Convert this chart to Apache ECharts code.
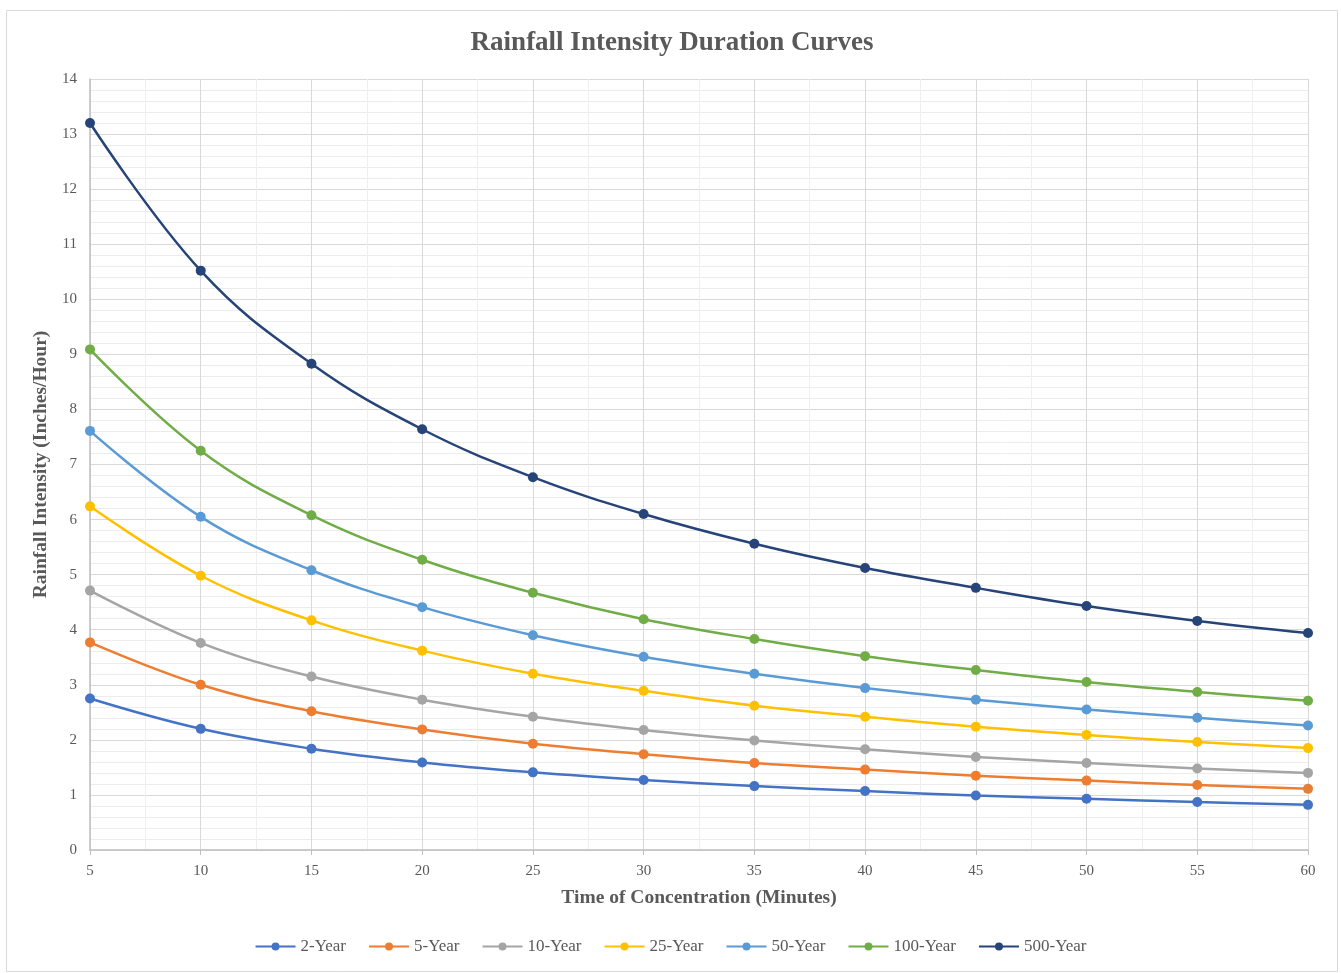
<!DOCTYPE html>
<html>
<head>
<meta charset="utf-8">
<script src="https://cdn.jsdelivr.net/npm/echarts@6/dist/echarts.min.js"></script>
<style>html,body{margin:0;padding:0;background:#fff;}#c{width:1341px;height:973px;}</style>
</head>
<body>
<div id="c"></div>
<script>
const durations = [5, 10, 15, 20, 25, 30, 35, 40, 45, 50, 55, 60];
const seriesNames = ['2-Year', '5-Year', '10-Year', '25-Year', '50-Year', '100-Year', '500-Year'];
const year2   = [2.75, 2.20, 1.84, 1.59, 1.41, 1.27, 1.16, 1.07, 0.99, 0.93, 0.87, 0.82];
const year5   = [3.77, 3.00, 2.52, 2.19, 1.93, 1.74, 1.58, 1.46, 1.35, 1.26, 1.18, 1.11];
const year10  = [4.71, 3.76, 3.15, 2.73, 2.42, 2.18, 1.99, 1.83, 1.69, 1.58, 1.48, 1.40];
const year25  = [6.24, 4.98, 4.17, 3.62, 3.20, 2.89, 2.62, 2.42, 2.24, 2.09, 1.96, 1.85];
const year50  = [7.61, 6.05, 5.08, 4.41, 3.90, 3.51, 3.20, 2.94, 2.73, 2.55, 2.40, 2.26];
const year100 = [9.09, 7.25, 6.08, 5.27, 4.67, 4.19, 3.83, 3.52, 3.27, 3.05, 2.87, 2.71];
const year500 = [13.20, 10.52, 8.83, 7.64, 6.77, 6.10, 5.56, 5.12, 4.76, 4.43, 4.16, 3.94];
const allValues = [year2, year5, year10, year25, year50, year100, year500];
const colors = ['#4472C4', '#ED7D31', '#A5A5A5', '#FFC000', '#5B9BD5', '#70AD47', '#264478'];

const font = 'Liberation Serif';
const chart = echarts.init(document.getElementById('c'));
chart.setOption({
  animation: false,
  color: colors,
  title: {
    text: 'Rainfall Intensity Duration Curves',
    left: 667, top: 25, textAlign: 'center',
    textStyle: { fontFamily: font, fontSize: 27, fontWeight: 'bold', color: '#595959' }
  },
  graphic: [{
    type: 'rect', left: 4, top: 8, z: -1,
    shape: { width: 1331, height: 961 },
    style: { fill: 'none', stroke: '#d9d9d9', lineWidth: 1 }
  }],
  legend: {
    bottom: 13, left: 'center',
    itemWidth: 40, itemHeight: 10, itemGap: 22,
    textStyle: { fontFamily: font, fontSize: 17, color: '#595959' },
    data: seriesNames
  },
  grid: { left: 90, right: 33, top: 79, bottom: 123 },
  xAxis: {
    type: 'value', min: 5, max: 60, interval: 5,
    name: 'Time of Concentration (Minutes)', nameLocation: 'middle', nameGap: 38,
    nameTextStyle: { fontFamily: font, fontSize: 19.5, fontWeight: 'bold', color: '#595959' },
    axisLine: { show: true, lineStyle: { color: '#bfbfbf', width: 1.5 } },
    axisTick: { show: true, length: 5, lineStyle: { color: '#bfbfbf' } },
    axisLabel: { fontFamily: font, fontSize: 15, color: '#595959', margin: 14 },
    splitLine: { show: true, lineStyle: { color: '#d9d9d9', width: 1 } },
    minorTick: { show: false, splitNumber: 2 },
    minorSplitLine: { show: true, lineStyle: { color: '#efefef', width: 1 } }
  },
  yAxis: {
    type: 'value', min: 0, max: 14, interval: 1,
    name: 'Rainfall Intensity (Inches/Hour)', nameLocation: 'middle', nameGap: 37,
    nameTextStyle: { fontFamily: font, fontSize: 19.5, fontWeight: 'bold', color: '#595959' },
    axisLine: { show: true, lineStyle: { color: '#bfbfbf', width: 1.5 } },
    axisTick: { show: false },
    axisLabel: { fontFamily: font, fontSize: 15, color: '#595959', margin: 13 },
    splitLine: { show: true, lineStyle: { color: '#d9d9d9', width: 1 } },
    minorTick: { show: false, splitNumber: 5 },
    minorSplitLine: { show: true, lineStyle: { color: '#ececec', width: 1 } }
  },
  series: seriesNames.map((n, i) => ({
    name: n, type: 'line', smooth: 0.4,
    data: durations.map((d, j) => [d, allValues[i][j]]),
    symbol: 'circle', symbolSize: 10,
    lineStyle: { width: 2.5, color: colors[i] },
    itemStyle: { color: colors[i] }
  }))
});
</script>
</body>
</html>
